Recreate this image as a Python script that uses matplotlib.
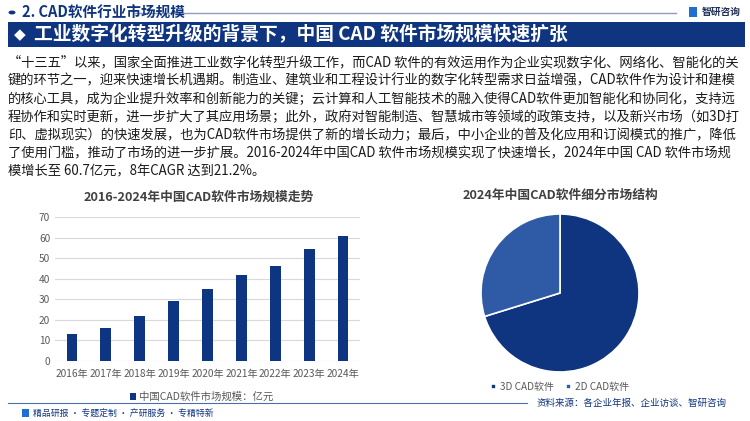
import matplotlib
matplotlib.use("Agg")
import matplotlib.pyplot as plt
from matplotlib.patches import Rectangle, Circle

plt.rcParams['font.family'] = ['Noto Sans CJK SC', 'DejaVu Sans']

# data
years = ['2016年', '2017年', '2018年', '2019年', '2020年', '2021年', '2022年', '2023年', '2024年']
market_size = [13.0, 15.8, 21.8, 29.0, 35.0, 42.0, 46.3, 54.6, 60.7]
seg_labels = ['3D CAD软件', '2D CAD软件']
seg_share = [70.2, 29.8]

para_lines = [
    '“十三五”以来，国家全面推进工业数字化转型升级工作，而CAD 软件的有效运用作为企业实现数字化、网络化、智能化的关',
    '键的环节之一，迎来快速增长机遇期。制造业、建筑业和工程设计行业的数字化转型需求日益增强，CAD软件作为设计和建模',
    '的核心工具，成为企业提升效率和创新能力的关键；云计算和人工智能技术的融入使得CAD软件更加智能化和协同化，支持远',
    '程协作和实时更新，进一步扩大了其应用场景；此外，政府对智能制造、智慧城市等领域的政策支持，以及新兴市场（如3D打',
    '印、虚拟现实）的快速发展，也为CAD软件市场提供了新的增长动力；最后，中小企业的普及化应用和订阅模式的推广，降低',
    '了使用门槛，推动了市场的进一步扩展。2016-2024年中国CAD 软件市场规模实现了快速增长，2024年中国 CAD 软件市场规',
    '模增长至 60.7亿元，8年CAGR 达到21.2%。',
]

W, H = 750, 421
navy = '#0f3580'
bar_c = '#0d3582'
pie_2d = '#2f5aa6'
gray_t = '#404040'


def fx(x):
    return x / W


def fy(y):
    return 1 - y / H


fig = plt.figure(figsize=(7.5, 4.21), dpi=100)
fig.patch.set_facecolor('white')

# header
fig.patches.append(Circle((fx(12), fy(12.5)), 3.5 / W, transform=fig.transFigure,
                          facecolor=navy, edgecolor='none'))
fig.text(fx(22), fy(12.5), '2. CAD软件行业市场规模', fontsize=10.5, fontweight='bold',
         color=navy, va='center', ha='left')
fig.lines.append(plt.Line2D([fx(135), fx(676)], [fy(13), fy(13)], transform=fig.transFigure,
                            color='#8c9dbd', lw=1))
fig.patches.append(Rectangle((fx(689), fy(17)), 8 / W, 10 / H, transform=fig.transFigure,
                             facecolor='#1e6fd0', edgecolor='none'))
fig.text(fx(702), fy(12), '智研咨询', fontsize=7, fontweight='bold', color='#1f2f55',
         va='center', ha='left')

# title banner
fig.patches.append(Rectangle((fx(8), fy(47)), 737 / W, 25 / H, transform=fig.transFigure,
                             facecolor=navy, edgecolor='none'))
fig.text(fx(14), fy(34.5), '◆', fontsize=11, color='white', va='center', ha='left',
         family=['DejaVu Sans'])
fig.text(fx(34), fy(34.5), '工业数字化转型升级的背景下，中国 CAD 软件市场规模快速扩张',
         fontsize=13.5, fontweight='bold', color='white', va='center', ha='left')

# paragraph
for i, line in enumerate(para_lines):
    fig.text(fx(8), fy(62 + i * 18.3), line, fontsize=9.55, color='#1a1a1a',
             va='center', ha='left')

# bar chart
ax = fig.add_axes([fx(55), fy(361), (360 - 55) / W, (361 - 217) / H])
x = range(len(years))
ax.bar(x, market_size, width=0.32, color=bar_c, label='中国CAD软件市场规模：亿元', zorder=3)
ax.set_ylim(0, 70)
ax.set_yticks(range(0, 71, 10))
ax.set_xlim(-0.5, len(years) - 0.5)
ax.set_xticks(list(x))
ax.set_xticklabels(years)
ax.tick_params(axis='both', length=0, labelsize=7.3, colors='#595959')
ax.tick_params(axis='x', pad=6)
ax.grid(axis='y', color='#d9d9d9', lw=0.8, zorder=0)
for s in ax.spines.values():
    s.set_visible(False)
ax.set_facecolor('none')
ax.legend(loc='center', bbox_to_anchor=(0.48, -0.25), frameon=False, fontsize=7.5,
          handlelength=0.6, handleheight=0.6, handletextpad=0.3, labelcolor='#595959')
fig.text(fx(199), fy(197), '2016-2024年中国CAD软件市场规模走势', fontsize=9.2, fontweight='bold',
         color=gray_t, va='center', ha='center')

# pie chart
r = 79
pax = fig.add_axes([fx(560 - r), fy(293 + r), 2 * r / W, 2 * r / H])
wedges, _ = pax.pie(seg_share, colors=[navy, pie_2d], startangle=90, counterclock=False,
                    wedgeprops=dict(edgecolor='white', linewidth=1.2))
pax.set_xlim(-1, 1)
pax.set_ylim(-1, 1)
pax.set_aspect('equal')
pax.legend(wedges, seg_labels, loc='center', bbox_to_anchor=(0.5, -0.095), ncol=2,
           frameon=False, fontsize=7.2, handlelength=0.5, handleheight=0.5,
           handletextpad=0.4, columnspacing=1.2, labelcolor='#595959')
fig.text(fx(560), fy(195), '2024年中国CAD软件细分市场结构', fontsize=9.2, fontweight='bold',
         color=gray_t, va='center', ha='center')

# source and footer
fig.lines.append(plt.Line2D([fx(8), fx(527)], [fy(403), fy(403)], transform=fig.transFigure,
                            color='#4a6fb0', lw=0.8))
fig.text(fx(537), fy(403), '资料来源：各企业年报、企业访谈、智研咨询', fontsize=6.85, color=navy,
         va='center', ha='left')
fig.patches.append(Rectangle((fx(22), fy(417)), 7 / W, 8 / H, transform=fig.transFigure,
                             facecolor='#1e6fd0', edgecolor='none'))
fig.text(fx(33), fy(413), '精品研报 · 专题定制 · 产研服务 · 专精特新', fontsize=6.4, color=navy,
         va='center', ha='left')

fig.savefig('out.png', dpi=100)
